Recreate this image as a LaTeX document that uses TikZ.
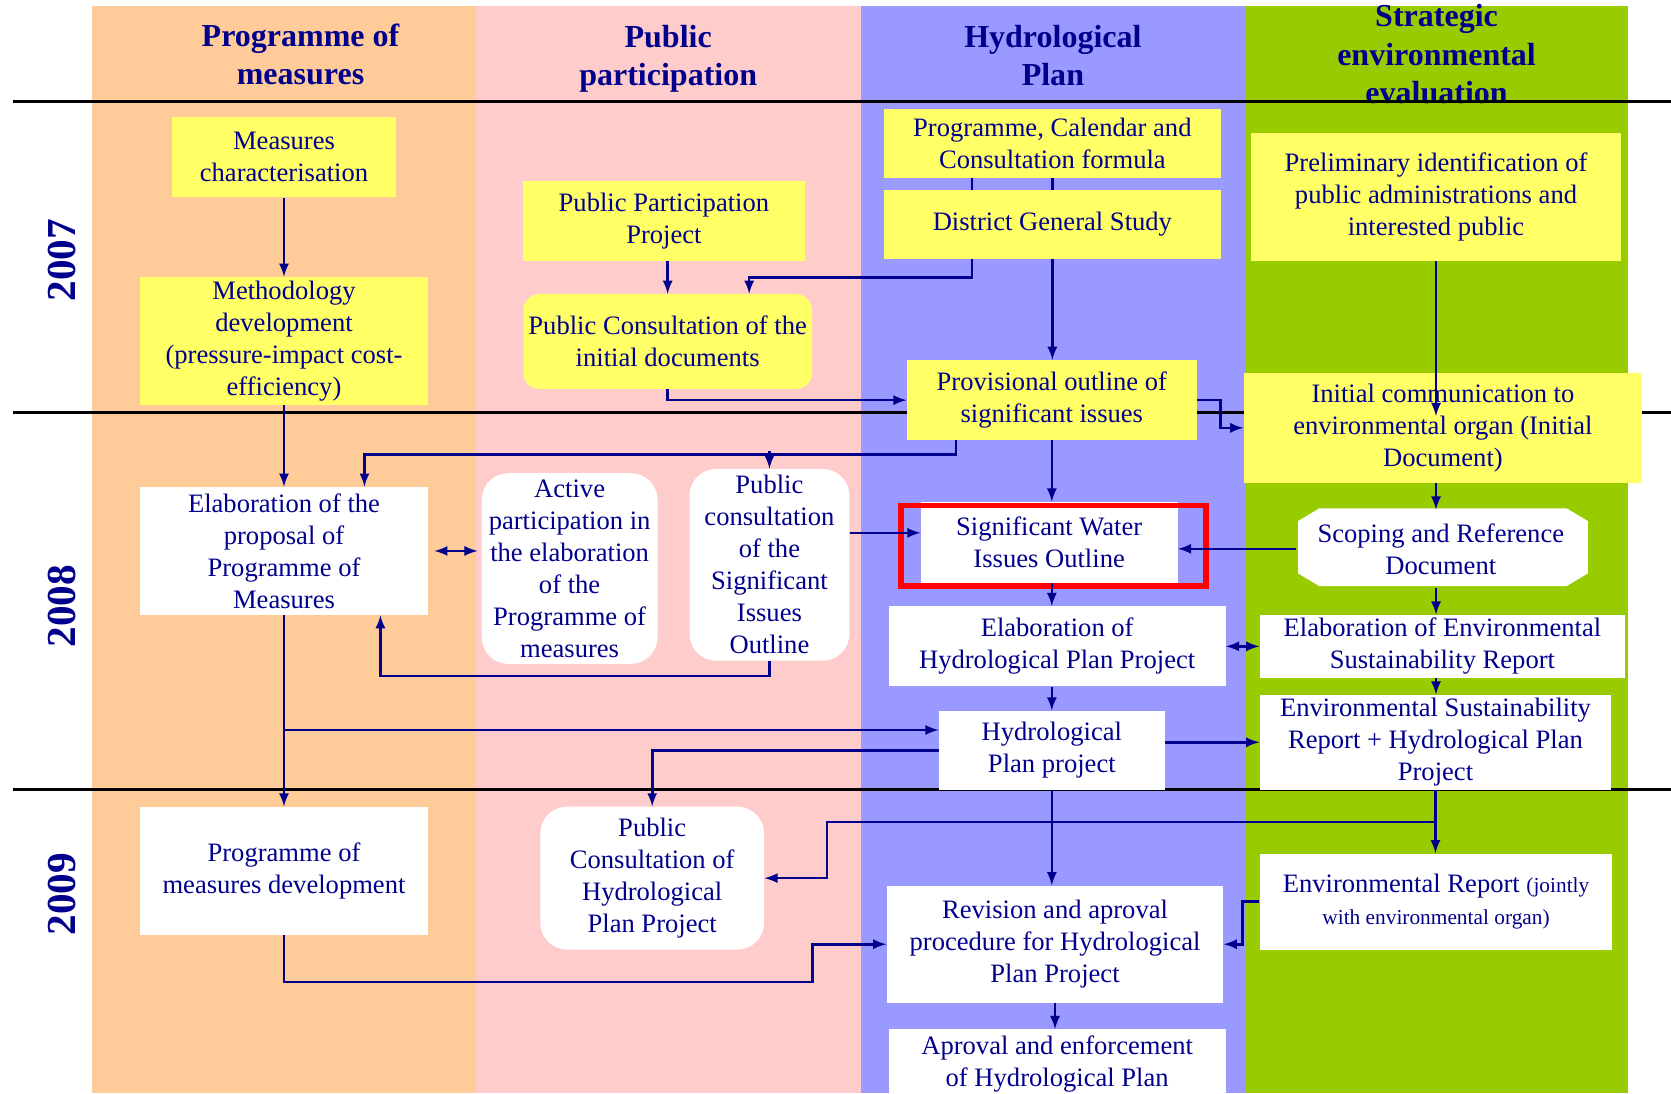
\documentclass[tikz,border=0pt]{standalone}
\usepackage{fontspec}
\setmainfont{Liberation Serif}
\tikzset{>=latex}
\definecolor{navy}{RGB}{0,0,140}
\definecolor{lanepom}{HTML}{FFCC99}
\definecolor{lanepp}{HTML}{FFCCCC}
\definecolor{lanehp}{HTML}{9999FF}
\definecolor{lanesee}{HTML}{99CC00}
\definecolor{boxyellow}{HTML}{FFFF66}
\newcommand{\bodyfont}{\fontsize{14.2}{17.1}\selectfont}
\newcommand{\headfont}{\fontsize{17.1}{20.6}\selectfont\bfseries}
\newcommand{\yearfont}{\fontsize{22}{22}\selectfont\bfseries}
\newcommand{\notefont}{\fontsize{11.4}{14.8}\selectfont}
\tikzset{
    box/.style={inner sep=0pt, align=center, text=navy, font=\bodyfont},
    ybox/.style={box, fill=boxyellow},
    wbox/.style={box, fill=white},
    link/.style={draw=navy, line width=1.4pt, ->},
    sepline/.style={line width=1.5pt},
    head/.style={text=navy, font=\headfont, align=center},
    year/.style={text=navy, font=\yearfont, rotate=90},
}

\begin{document}
\begin{tikzpicture}[x=0.02cm, y=-0.02cm]
    \useasboundingbox(0, 0) rectangle (1568, 1026);
    \fill[lanepom](86, 6) rectangle (447, 1026);
    \fill[lanepp](447, 6) rectangle (808, 1026);
    \fill[lanehp](808, 6) rectangle (1168, 1026);
    \fill[lanesee](1168, 6) rectangle (1528, 1026);

    \node[head](hdpom) at (282, 51) {Programme of\\measures};
    \node[head](hdpp) at (627, 55) {Public\\participation};
    \node[head](hdhp) at (988, 52) {Hydrological\\Plan};
    \node[head](hdsee) at (1348, 51) {Strategic\\environmental\\evaluation};

    \node[year](y2007) at (58, 244) {2007};
    \node[year](y2008) at (58, 569) {2008};
    \node[year](y2009) at (58, 839) {2009};

    \foreach \y in {95, 387, 741}
        \draw[sepline](12, \y)--(1568, \y);

    \node[ybox, minimum width=4.22cm, minimum height=1.5cm](meas) at (266.5, 147.5) {Measures\\characterisation};
    \node[ybox, minimum width=5.42cm, minimum height=2.4cm](meth) at (266.5, 320) {Methodology\\development\\(pressure-impact cost-\\efficiency)};
    \node[ybox, minimum width=5.28cm, minimum height=1.5cm](ppp) at (623, 207.5) {Public Participation\\Project};
    \node[ybox, rounded corners=0.3cm, minimum width=5.42cm, minimum height=1.78cm](pcinit) at (626.5, 320.5) {Public Consultation of the\\initial documents};
    \node[ybox, minimum width=6.34cm, minimum height=1.3cm](prog) at (987.5, 134.5) {Programme, Calendar and\\Consultation formula};
    \node[ybox, minimum width=5.44cm, minimum height=1.5cm](prov) at (987, 375.5) {Provisional outline of\\significant issues};
    \draw[link]([xshift=-1.51cm]prog.south)--++(0, 93)-|([xshift=1.53cm]pcinit.north);
    \draw[link](prog.south)--(prog.south |- prov.north);
    \node[ybox, minimum width=6.34cm, minimum height=1.3cm](dist) at (987.5, 210.5) {District General Study};
    \node[ybox, minimum width=6.94cm, minimum height=2.4cm](prelim) at (1347.5, 185) {Preliminary identification of\\public administrations and\\interested public};
    \node[ybox, minimum width=7.48cm, minimum height=2.06cm](initc) at (1354, 401.5) {Initial communication to\\environmental organ (Initial\\Document)};

    \node[wbox, minimum width=5.42cm, minimum height=2.4cm](elabpom) at (266.5, 517) {Elaboration of the\\proposal of\\Programme of\\Measures};
    \node[wbox, rounded corners=0.5cm, minimum width=3.3cm, minimum height=3.58cm](active) at (534.5, 533.5) {Active\\participation in\\the elaboration\\of the\\Programme of\\measures};
    \node[wbox, rounded corners=0.5cm, minimum width=3cm, minimum height=3.6cm](pcsio) at (722, 530) {Public\\consultation\\of the\\Significant\\Issues\\Outline};
    \node[wbox, minimum width=4.82cm, minimum height=1.52cm](swio) at (984.5, 509) {Significant Water\\Issues Outline};
    \draw[red, line width=0.1cm](845.5, 474.5) rectangle (1131.5, 550);
    \fill[white](1218, 489)--(1238, 477)--(1470, 477)--(1490, 489)--(1490, 538)--(1470, 550)--(1238, 550)--(1218, 538)--cycle;
    \node[box, minimum width=5.44cm, minimum height=1.46cm](scope) at (1352, 515) {Scoping and Reference\\Document};
    \node[wbox, minimum width=6.32cm, minimum height=1.5cm](elabhpp) at (992, 606.5) {Elaboration of\\Hydrological Plan Project};
    \node[wbox, minimum width=6.86cm, minimum height=1.18cm](elabesr) at (1353.5, 606.5) {Elaboration of Environmental\\Sustainability Report};
    \node[wbox, minimum width=4.24cm, minimum height=1.48cm](hpp) at (987, 704) {Hydrological\\Plan project};
    \node[wbox, minimum width=6.6cm, minimum height=1.78cm](esrhpp) at (1347, 696.5) {Environmental Sustainability\\Report + Hydrological Plan\\Project};

    \node[wbox, minimum width=5.42cm, minimum height=2.4cm](pmd) at (266.5, 817) {Programme of\\measures development};
    \node[wbox, rounded corners=0.5cm, minimum width=4.2cm, minimum height=2.68cm](pchpp) at (612, 824) {Public\\Consultation of\\Hydrological\\Plan Project};
    \node[wbox, minimum width=6.32cm, minimum height=2.2cm](rev) at (990, 886) {Revision and aproval\\procedure for Hydrological\\Plan Project};
    \node[wbox, minimum width=6.62cm, minimum height=1.8cm](envrep) at (1347.5, 846) {Environmental Report {\notefont(jointly}\\{\notefont with environmental organ)}};
    \node[wbox, minimum width=6.32cm, minimum height=1.28cm](apr) at (992, 998) {Aproval and enforcement\\of Hydrological Plan};

    \draw[link](meas)--(meth);
    \draw[link](pcinit.north |- ppp.south)--(pcinit.north);
    \draw[link](pcinit.south)|-(prov.west);
    \draw[link](prov.east)--++(22, 0)|-(initc.west);
    \draw[link](prelim.south)--++(0, 145);

    \draw[link](meth)--(elabpom);
    \draw[link](prov.south)--(prov.south |- swio.north);
    \draw[link]([xshift=-1.8cm]prov.south)--++(0, 13)-|([xshift=1.51cm]elabpom.north);
    \draw[link]([yshift=0.32cm]pcsio.north)--(pcsio.north);
    \draw[link](pcsio.south)--++(0, 14)-|([xshift=1.81cm]elabpom.south);
    \draw[link, <->, shorten <=3pt, shorten >=2pt](elabpom.east)--(elabpom.east -| active.west);
    \coordinate(swin) at ([yshift=0.18cm]swio.west);
    \draw[link](pcsio.east |- swin)--(swin);
    \draw[link](scope.west)--(scope.west -| swio.east);
    \draw[link](initc.south -| prelim.south)--(scope.north -| prelim.south);
    \draw[link](scope.south -| prelim.south)--(elabesr.north -| prelim.south);
    \draw[link](elabesr.south -| prelim.south)--(esrhpp.north -| prelim.south);
    \draw[link](prov.south |- swio.south)--(prov.south |- elabhpp.north);
    \draw[link, <->](elabhpp.east)--(elabesr.west);
    \draw[link](hpp.north |- elabhpp.south)--(hpp.north);
    \draw[link](hpp.east |- esrhpp.west)--(esrhpp.west);
    \coordinate(hpin) at ([yshift=0.38cm]hpp.west);
    \draw[link](elabpom.south |- hpin)--(hpin);
    \draw[link](hpp.west)-|(pchpp.north);

    \draw[link](elabpom)--(pmd);
    \draw[link](hpp.south)--(hpp.south |- rev.north);
    \draw[link](esrhpp.south)--(esrhpp.south |- envrep.north);
    \draw[link]([yshift=-0.6cm]esrhpp.south)--++(-571, 0)|-(pchpp.east);
    \draw[link](envrep.west)--++(-16, 0)|-(rev.east);
    \draw[link](pmd.south)--++(0, 44)--++(496, 0)|-(rev.west);
    \draw[link](rev.south)--(rev.south |- apr.north);
\end{tikzpicture}
\end{document}
